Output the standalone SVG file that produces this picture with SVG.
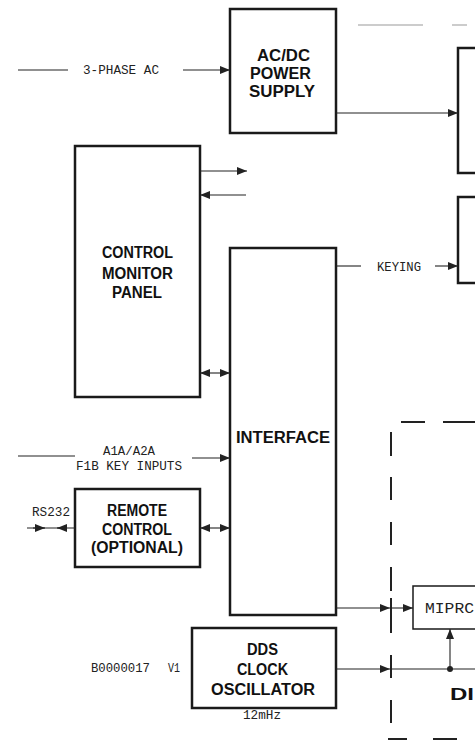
<svg xmlns="http://www.w3.org/2000/svg" width="475" height="740" viewBox="0 0 475 740">
<style>
.box{fill:none;stroke:#1a1a1a;stroke-width:2.5}
.thin{fill:none;stroke:#1a1a1a;stroke-width:1.5}
.ln{fill:none;stroke:#222;stroke-width:1.1}
.dash{fill:none;stroke:#222;stroke-width:2}
.b{font-family:"Liberation Sans",Arial,sans-serif;font-weight:bold;font-size:16px;fill:#111;text-anchor:middle}
.s{font-family:"Liberation Mono","DejaVu Sans Mono",monospace;font-size:12.5px;fill:#222}
</style>
<defs>
<marker id="ah" viewBox="0 0 10 8" refX="10" refY="4" markerWidth="10" markerHeight="8" markerUnits="userSpaceOnUse" orient="auto-start-reverse">
<path d="M0,0 L10,4 L0,8 Z" fill="#222"/>
</marker>
</defs>
<rect width="475" height="740" fill="#fff"/>

<g id="acdc">
<rect class="box" x="230" y="9" width="106" height="124"/>
<text class="b" x="283.5" y="61" textLength="53" lengthAdjust="spacingAndGlyphs">AC/DC</text>
<text class="b" x="280.5" y="79" textLength="61" lengthAdjust="spacingAndGlyphs">POWER</text>
<text class="b" x="282" y="97" textLength="66" lengthAdjust="spacingAndGlyphs">SUPPLY</text>
</g>

<g id="right-box-1"><path class="box" d="M476,48 H458 V173 H476"/></g>
<g id="right-box-2"><path class="box" d="M476,197 H458 V283 H476"/></g>

<g id="control-monitor-panel">
<rect class="box" x="75" y="146" width="125" height="251"/>
<text class="b" x="137.5" y="258" textLength="71" lengthAdjust="spacingAndGlyphs">CONTROL</text>
<text class="b" x="137.5" y="279" textLength="71" lengthAdjust="spacingAndGlyphs">MONITOR</text>
<text class="b" x="137" y="298" textLength="50" lengthAdjust="spacingAndGlyphs">PANEL</text>
</g>

<g id="interface">
<rect class="box" x="230" y="248" width="106" height="367"/>
<text class="b" x="283" y="443" textLength="94" lengthAdjust="spacingAndGlyphs">INTERFACE</text>
</g>

<g id="remote-control">
<rect class="box" x="75" y="489" width="125" height="78"/>
<text class="b" x="137" y="516" textLength="60" lengthAdjust="spacingAndGlyphs">REMOTE</text>
<text class="b" x="137" y="535" textLength="70" lengthAdjust="spacingAndGlyphs">CONTROL</text>
<text class="b" x="137" y="553" textLength="92" lengthAdjust="spacingAndGlyphs">(OPTIONAL)</text>
</g>

<g id="dds-clock-oscillator">
<rect class="box" x="192" y="628" width="144" height="80"/>
<text class="b" x="262.5" y="655" textLength="31" lengthAdjust="spacingAndGlyphs">DDS</text>
<text class="b" x="262.5" y="675" textLength="51" lengthAdjust="spacingAndGlyphs">CLOCK</text>
<text class="b" x="263" y="695" textLength="104" lengthAdjust="spacingAndGlyphs">OSCILLATOR</text>
<text class="s" x="243" y="719" textLength="38" lengthAdjust="spacingAndGlyphs">12mHz</text>
</g>

<g id="mipro">
<path class="thin" d="M476,586 H413 V629 H476"/>
<text class="s" x="425" y="613" style="font-size:14px" textLength="49" lengthAdjust="spacingAndGlyphs">MIPRC</text>
</g>

<g id="di-region">
<path class="dash" d="M391,432 V456 M391,477 V500 M391,522 V545 M391,567 V591 M391,598 V633 M391,655 V678 M391,700 V723"/>
<path class="dash" d="M401,422 H425 M443,422 H476"/>
<path class="dash" d="M388,739 H407 M433,739 H457"/>
<text class="b" x="450" y="700" style="text-anchor:start" textLength="24" lengthAdjust="spacingAndGlyphs">DI</text>
</g>

<g id="labels">
<text class="s" x="83" y="74" textLength="76" lengthAdjust="spacingAndGlyphs">3-PHASE AC</text>
<text class="s" x="377" y="271" textLength="44" lengthAdjust="spacingAndGlyphs">KEYING</text>
<text class="s" x="103" y="455" textLength="52" lengthAdjust="spacingAndGlyphs">A1A/A2A</text>
<text class="s" x="76" y="470" textLength="106" lengthAdjust="spacingAndGlyphs">F1B KEY INPUTS</text>
<text class="s" x="32" y="516" textLength="38" lengthAdjust="spacingAndGlyphs">RS232</text>
<text class="s" x="91" y="672" textLength="59" lengthAdjust="spacingAndGlyphs">B0000017</text>
<text class="s" x="168" y="672" textLength="12" lengthAdjust="spacingAndGlyphs">V1</text>
</g>

<g id="connectors">
<path class="ln" d="M18,70 H68"/>
<path class="ln" d="M183,70 H230" marker-end="url(#ah)"/>
<path d="M358,25 H423 M452,25 H467" fill="none" stroke="#999" stroke-width="1"/>
<path class="ln" d="M336,113 H458" marker-end="url(#ah)"/>
<path class="ln" d="M200,171 H247" marker-end="url(#ah)"/>
<path class="ln" d="M246,195 H200" marker-end="url(#ah)"/>
<path class="ln" d="M336,266 H361"/>
<path class="ln" d="M435,266 H458" marker-end="url(#ah)"/>
<path class="ln" d="M200,373 H230" marker-start="url(#ah)" marker-end="url(#ah)"/>
<path class="ln" d="M18,456 H75"/>
<path class="ln" d="M192,458 H230" marker-end="url(#ah)"/>
<path class="ln" d="M27,528 H75"/>
<path class="ln" d="M33,528 H45" marker-end="url(#ah)"/>
<path class="ln" d="M67,528 H57" marker-end="url(#ah)"/>
<path class="ln" d="M200,528 H230" marker-start="url(#ah)" marker-end="url(#ah)"/>
<path class="ln" d="M336,608 H390" marker-end="url(#ah)"/>
<path class="ln" d="M390,608 H413" marker-end="url(#ah)"/>
<path class="ln" d="M336,669 H390" marker-end="url(#ah)"/>
<path class="ln" d="M390,669 H476"/>
<path class="ln" d="M450,669 V629" marker-end="url(#ah)"/>
<circle cx="450" cy="669" r="3" fill="#222"/>
</g>
</svg>
